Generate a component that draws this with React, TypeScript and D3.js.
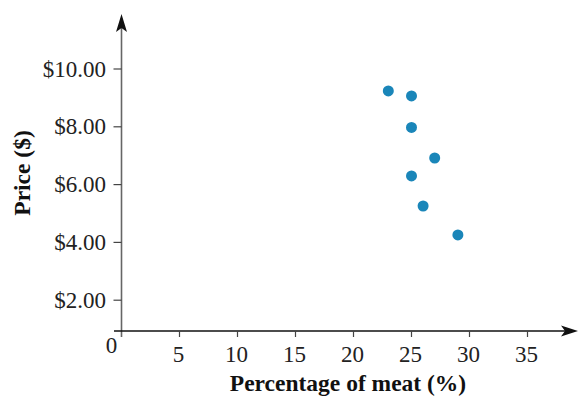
import React from "react";
import * as d3 from "d3";

const meatPct = [23, 25, 25, 27, 25, 26, 29];
const prices = [9.24, 9.07, 7.98, 6.92, 6.3, 5.26, 4.26];
const xTicks = [5, 10, 15, 20, 25, 30, 35];
const yTicks = [2, 4, 6, 8, 10];

export default function App() {
  const W = 579, H = 399;
  const x = d3.scaleLinear().domain([0, 35]).range([121.5, 527.5]);
  const y = d3.scaleLinear().domain([0, 10]).range([358, 69]);
  const x0 = x(0);
  const axisY = 331;
  const fmt = (v: number) => "$" + d3.format(".2f")(v);
  const serif = "'Liberation Serif', 'Times New Roman', serif";
  const tickColor = "#222";
  const fs = 23;
  return (
    <svg width={W} height={H} style={{ position: "absolute", left: 0, top: 0, background: "#fff" }}>
      {/* y axis */}
      <line x1={x0} x2={x0} y1={337} y2={24} stroke="#666" strokeWidth={1.6} />
      <path d={`M${x0},14 L${x0 + 5.5},32 L${x0},28 L${x0 - 5.5},32 Z`} fill="#111" />
      {yTicks.map((t) => (
        <g key={t}>
          <line x1={x0 - 8} x2={x0} y1={y(t)} y2={y(t)} stroke="#444" strokeWidth={1.2} />
          <text x={106} y={y(t)} dy="0.33em" textAnchor="end" fontFamily={serif} fontSize={fs} fill={tickColor}>
            {fmt(t)}
          </text>
        </g>
      ))}
      {/* x axis */}
      <line x1={114} x2={570} y1={axisY} y2={axisY} stroke="#111" strokeWidth={1.4} />
      <path d={`M578,${axisY} L561,${axisY - 5.5} L565,${axisY} L561,${axisY + 5.5} Z`} fill="#111" />
      {xTicks.map((t) => (
        <g key={t}>
          <line x1={x(t)} x2={x(t)} y1={axisY} y2={axisY + 6} stroke="#444" strokeWidth={1.2} />
          <text x={x(t) - 1} y={362} textAnchor="middle" fontFamily={serif} fontSize={fs} fill={tickColor}>
            {t}
          </text>
        </g>
      ))}
      <text x={111.5} y={353} textAnchor="middle" fontFamily={serif} fontSize={fs} fill={tickColor}>0</text>
      {/* points */}
      {meatPct.map((m, i) => (
        <circle key={i} cx={x(m)} cy={y(prices[i])} r={5.5} fill="#1a86b9" />
      ))}
      {/* axis titles */}
      <text x={348} y={391} textAnchor="middle" fontFamily={serif} fontWeight="bold" fontSize={23.5} fill="#111">
        Percentage of meat (%)
      </text>
      <text transform={`translate(30,173) rotate(-90)`} textAnchor="middle" fontFamily={serif} fontWeight="bold" fontSize={23.5} fill="#111">
        Price ($)
      </text>
    </svg>
  );
}
